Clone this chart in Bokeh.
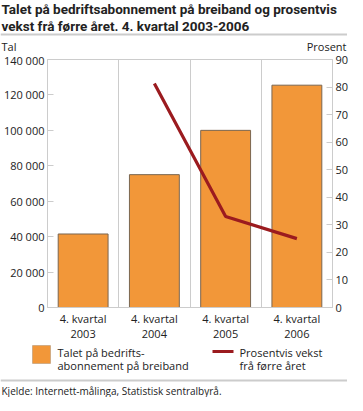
from bokeh.plotting import figure
from bokeh.layouts import column
from bokeh.models import (Range1d, LinearAxis, FixedTicker, Grid, Label, Span, BoxAnnotation,
                          CustomJSTickFormatter)
from bokeh.embed import file_html
from bokeh.resources import INLINE

# ---- data ----
years = ["2003", "2004", "2005", "2006"]
x_labels = ["4. kvartal\n2003", "4. kvartal\n2004", "4. kvartal\n2005", "4. kvartal\n2006"]
subscriptions = [41500, 75000, 100000, 125500]
growth_years = ["2004", "2005", "2006"]
growth_pct = [81.3, 33.0, 25.0]
left_ticks = [0, 20000, 40000, 60000, 80000, 100000, 120000, 140000]
right_ticks = [0, 10, 20, 30, 40, 50, 60, 70, 80, 90]

title_lines = ["Talet på bedriftsabonnement på breiband og prosentvis",
               "vekst frå førre året. 4. kvartal 2003-2006"]
left_unit = "Tal"
right_unit = "Prosent"
bar_legend_lines = ["Talet på bedrifts-", "abonnement på breiband"]
line_legend_lines = ["Prosentvis vekst", "frå førre året"]
source_text = "Kjelde: Internett-målinga, Statistisk sentralbyrå."

FONT = "Open Sans"
TFONT = "Roboto"
TXT = "#222222"
GRID = "#cccccc"
BAR = "#F29739"
BAR_EDGE = "#7a6650"
LINE = "#9b1b1f"

W = 347
HEAD_H = 52
FL, FR, FT, FB = 44, 18, 7, 34
FW, FH = W - FL - FR, 248
MAIN_H = FT + FH + FB
FOOT_H = 395 - HEAD_H - MAIN_H


def blank(h):
    f = figure(width=W, height=h, output_backend="svg", toolbar_location=None,
               x_axis_type=None, y_axis_type=None, frame_align=False,
               x_range=Range1d(0, W), y_range=Range1d(h, 0),
               min_border_left=0, min_border_right=0,
               min_border_top=0, min_border_bottom=0)
    f.grid.visible = False
    f.outline_line_color = None
    return f


def lab(f, text, x, y, size, bold=False, align="left", font=FONT):
    f.add_layout(Label(x=x, y=y, text=text, text_font=font, text_font_size=size,
                       text_color=TXT, text_font_style="bold" if bold else "normal",
                       text_align=align, text_baseline="top"))


# ---- header ----
head = blank(HEAD_H)
for i, t in enumerate(title_lines):
    lab(head, t, 1, 0 + 17 * i, "13.5px", bold=True, font=TFONT)
head.add_layout(Span(location=34, dimension="width", line_color=GRID, line_width=2))
lab(head, left_unit, 1, 38, "11px")
lab(head, right_unit, 346, 38, "11px", align="right")

# ---- main chart ----
xi = list(range(len(years)))
gx = [years.index(y) for y in growth_years]

p = figure(width=W, height=MAIN_H, frame_width=FW, frame_height=FH, frame_align=False,
           output_backend="svg", toolbar_location=None,
           x_range=Range1d(-0.5, len(years) - 0.5), y_range=Range1d(0, 140000),
           min_border_left=FL, min_border_right=FR, min_border_top=FT, min_border_bottom=FB)
p.extra_y_ranges = {"pct": Range1d(0, 90)}
p.outline_line_color = GRID

p.vbar(x=xi, top=subscriptions, width=0.70, fill_color=BAR, line_color=BAR_EDGE, line_width=1)
p.line(x=gx, y=growth_pct, y_range_name="pct", line_color=LINE, line_width=3.2)

p.xaxis.ticker = FixedTicker(ticks=xi)
p.xaxis.major_label_overrides = {i: t for i, t in enumerate(x_labels)}
p.xaxis.major_tick_line_color = None
p.xaxis.major_tick_in = 0
p.xaxis.major_tick_out = 0
p.xaxis.minor_tick_line_color = None
p.xaxis.axis_line_color = GRID
p.xaxis.major_label_text_font = FONT
p.xaxis.major_label_text_font_size = "11px"
p.xaxis.major_label_text_color = TXT
p.xaxis.major_label_text_line_height = 1.0
p.xaxis.major_label_standoff = 3

fmt = CustomJSTickFormatter(code="return tick.toFixed(0).replace(/\\B(?=(\\d{3})+(?!\\d))/g, ' ');")
p.yaxis.ticker = FixedTicker(ticks=left_ticks)
p.yaxis.formatter = fmt
rax = LinearAxis(y_range_name="pct", ticker=FixedTicker(ticks=right_ticks))
p.add_layout(rax, "right")
for ax in [p.yaxis[0], rax]:
    ax.axis_line_color = GRID
    ax.major_tick_line_color = GRID
    ax.major_tick_in = 6
    ax.major_tick_out = 0
    ax.minor_tick_line_color = None
    ax.major_label_text_font = FONT
    ax.major_label_text_font_size = "11px"
    ax.major_label_text_color = TXT
    ax.major_label_standoff = 3

p.ygrid.grid_line_color = None
p.xgrid.grid_line_color = None
p.add_layout(Grid(dimension=0, ticker=FixedTicker(ticks=[i + 0.5 for i in xi[:-1]]),
                  grid_line_color=GRID, grid_line_width=1))

# ---- footer: legend + source ----
foot = blank(FOOT_H)
foot.add_layout(BoxAnnotation(left=32, right=50, top=2, bottom=20, fill_color=BAR,
                              fill_alpha=1, line_color=BAR_EDGE, line_width=1))
foot.add_layout(BoxAnnotation(left=212, right=233, top=6.5, bottom=9.5, fill_color=LINE,
                              fill_alpha=1, line_color=None))
for i, t in enumerate(bar_legend_lines):
    lab(foot, t, 57, 1 + 13 * i, "11px")
for i, t in enumerate(line_legend_lines):
    lab(foot, t, 239, 1 + 13 * i, "11px")
foot.add_layout(Span(location=FOOT_H - 17, dimension="width", line_color=GRID, line_width=2))
lab(foot, source_text, 1, FOOT_H - 14, "10px")

layout = column(head, p, foot, spacing=0)
open("out.html", "w").write(file_html(layout, INLINE))
